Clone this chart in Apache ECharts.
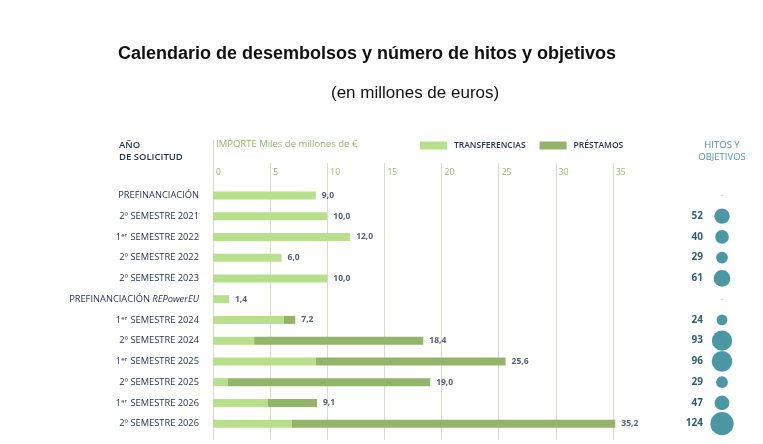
<!DOCTYPE html>
<html>
<head>
<meta charset="utf-8">
<script src="https://cdn.jsdelivr.net/npm/echarts@6/dist/echarts.min.js"></script>
<style>
  html, body { margin: 0; padding: 0; background: #fff; }
  #chart { width: 763px; height: 444px; }
</style>
</head>
<body>
<div id="chart"></div>
<script>
const categories = [
  'PREFINANCIACIÓN',
  '2º SEMESTRE 2021',
  '1{sup|er} SEMESTRE 2022',
  '2º SEMESTRE 2022',
  '2º SEMESTRE 2023',
  'PREFINANCIACIÓN {it|REPowerEU}',
  '1{sup|er} SEMESTRE 2024',
  '2º SEMESTRE 2024',
  '1{sup|er} SEMESTRE 2025',
  '2º SEMESTRE 2025',
  '1{sup|er} SEMESTRE 2026',
  '2º SEMESTRE 2026'
]
const transferencias = [9.0, 10.0, 12.0, 6.0, 10.0, 1.4, 6.2, 3.6, 9.0, 1.3, 4.8, 6.9]
const prestamos = [0, 0, 0, 0, 0, 0, 1.0, 14.8, 16.6, 17.7, 4.3, 28.3]
const totales = [9.0, 10.0, 12.0, 6.0, 10.0, 1.4, 7.2, 18.4, 25.6, 19.0, 9.1, 35.2]
const hitos = [null, 52, 40, 29, 61, null, 24, 93, 96, 29, 47, 124]
const xTicks = [0, 5, 10, 15, 20, 25, 30, 35]

const navy = '#26355a'
const grid = '#d9ddcb'
const light = '#b8e08c'
const dark = '#93b56a'
const teal = '#4b97a3'
const tealDark = '#2e5f6e'
const font = 'Open Sans'

const fmt = (v) => v.toFixed(1).replace('.', ',')

const chart = echarts.init(document.getElementById('chart'))

const option = {
  animation: false,
  textStyle: { fontFamily: font },
  title: [
    {
      text: 'Calendario de desembolsos y número de hitos y objetivos',
      left: 113,
      top: 40,
      textStyle: { fontFamily: 'Liberation Sans', fontSize: 18, fontWeight: 'bold', color: '#111' },
    },
    {
      text: '(en millones de euros)',
      left: 326,
      top: 80,
      textStyle: { fontFamily: 'Liberation Sans', fontSize: 17, fontWeight: 'normal', color: '#111' },
    },
  ],
  legend: {
    left: 415,
    top: 136,
    itemWidth: 27,
    itemHeight: 8,
    itemGap: 14,
    icon: 'rect',
    textStyle: { color: navy, fontSize: 8.5, fontWeight: 600, fontFamily: font, padding: [0, 0, 0, 2] },
    data: ['TRANSFERENCIAS', 'PRÉSTAMOS'],
  },
  graphic: [
    {
      type: 'text',
      left: 119,
      top: 139,
      style: { text: 'AÑO\nDE SOLICITUD', fill: navy, font: '600 9.5px "Open Sans"', lineHeight: 12 },
    },
    {
      type: 'text',
      left: 216,
      top: 139,
      style: { text: 'IMPORTE Miles de millones de €', fill: dark, font: '9.5px "Open Sans"' },
    },
    {
      type: 'text',
      x: 722,
      y: 139,
      style: { text: 'HITOS Y\nOBJETIVOS', fill: teal, font: '9.5px "Open Sans"', align: 'center', lineHeight: 12 },
    },
    {
      type: 'line',
      shape: { x1: 213.5, y1: 140, x2: 213.5, y2: 185 },
      style: { stroke: grid, lineWidth: 1 },
    },
  ],
  grid: [
    { left: 213, width: 400, top: 185, bottom: 10 },
    { left: 701, width: 42, top: 185, bottom: 10 },
  ],
  xAxis: [
    {
      type: 'value',
      gridIndex: 0,
      position: 'top',
      min: 0,
      max: 35,
      interval: 5,
      axisLine: { show: false },
      axisTick: { show: true, length: 22, lineStyle: { color: grid } },
      splitLine: { show: true, lineStyle: { color: grid } },
      axisLabel: {
        color: dark,
        fontSize: 8.5,
        margin: 8,
        align: 'left',
        padding: [0, 0, 0, 3],
        formatter: (v) => (xTicks.includes(v) ? String(v) : ''),
      },
    },
    {
      type: 'value',
      gridIndex: 0,
      position: 'bottom',
      min: 0,
      max: 35,
      interval: 5,
      axisLine: { show: false },
      axisTick: { show: true, length: 6, lineStyle: { color: grid } },
      splitLine: { show: false },
      axisLabel: { show: false },
    },
    {
      type: 'category',
      gridIndex: 1,
      data: ['HITOS'],
      show: false,
    },
  ],
  yAxis: [
    {
      type: 'category',
      gridIndex: 0,
      inverse: true,
      data: categories,
      axisLine: { show: true, lineStyle: { color: grid } },
      axisTick: { show: false },
      axisLabel: {
        color: navy,
        fontSize: 9.3,
        margin: 14,
        rich: {
          sup: { fontSize: 6, color: navy, verticalAlign: 'top', padding: [0, 1, 4, 0] },
          it: { fontSize: 9.3, fontStyle: 'italic', color: navy },
        },
      },
    },
    {
      type: 'category',
      gridIndex: 1,
      inverse: true,
      data: categories,
      show: false,
    },
  ],
  series: [
    {
      name: 'TRANSFERENCIAS',
      type: 'bar',
      stack: 'importe',
      xAxisIndex: 0,
      yAxisIndex: 0,
      barWidth: 8,
      clip: false,
      itemStyle: { color: light },
      data: transferencias,
    },
    {
      name: 'PRÉSTAMOS',
      type: 'bar',
      stack: 'importe',
      xAxisIndex: 0,
      yAxisIndex: 0,
      barWidth: 8,
      clip: false,
      itemStyle: { color: dark },
      data: prestamos,
    },
    {
      name: 'total',
      type: 'scatter',
      xAxisIndex: 0,
      yAxisIndex: 0,
      symbolSize: 0,
      clip: false,
      silent: true,
      label: {
        show: true,
        position: 'right',
        distance: 6,
        color: navy,
        fontSize: 8.5,
        fontWeight: 'bold',
        formatter: (p) => fmt(p.value[0]),
      },
      data: totales.map((v, i) => [v, i]),
    },
    {
      name: 'hitos',
      type: 'scatter',
      xAxisIndex: 2,
      yAxisIndex: 1,
      itemStyle: { color: teal, opacity: 1 },
      data: hitos.map((v, i) => ({
        value: [0, i, v == null ? 0 : v],
        symbolSize: v == null ? 0 : 2 * Math.sqrt(v) + 1,
        label: v == null
          ? { show: true, position: 'inside', formatter: '-', color: '#999', fontSize: 7 }
          : {
            show: true,
            position: 'inside',
            align: 'right',
            offset: [-19, 0],
            formatter: String(v),
            color: tealDark,
            fontSize: 10,
            fontWeight: 'bold',
          },
      })),
    },
  ],
}

chart.setOption(option)
</script>
</body>
</html>
